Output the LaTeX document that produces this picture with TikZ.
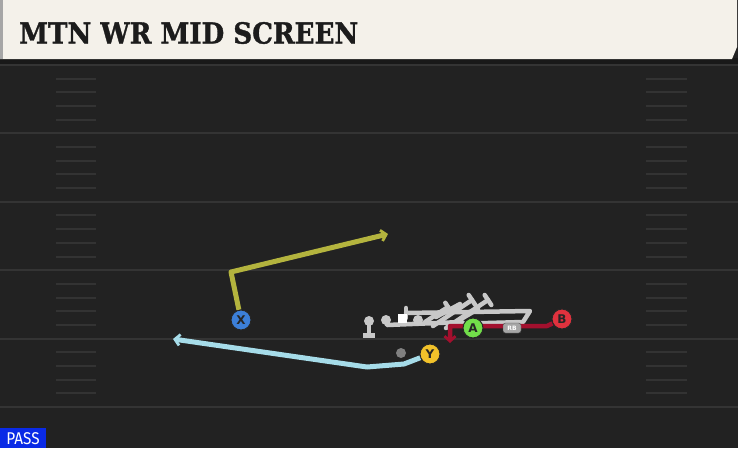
\documentclass[tikz,border=0pt]{standalone}
\usepackage{fontspec}
\usetikzlibrary{arrows.meta}
\newfontfamily\titlefont{DejaVu Serif}[FakeBold=1.2]
\newfontfamily\labfont{DejaVu Sans}
\newfontfamily\passfont{Fira Sans}
\definecolor{fieldbg}{HTML}{222222}
\definecolor{yardc}{HTML}{343434}
\definecolor{hashc}{HTML}{333333}
\definecolor{titlebg}{HTML}{F4F1EA}
\definecolor{titletx}{HTML}{1C1C1C}
\definecolor{xroute}{HTML}{B4B43E}
\definecolor{yroute}{HTML}{A6DCE9}
\definecolor{rroute}{HTML}{A3102E}
\definecolor{olc}{HTML}{C8C8C8}
\definecolor{xblue}{HTML}{3C7FD8}
\definecolor{yyel}{HTML}{F2C22A}
\definecolor{agreen}{HTML}{72DE4A}
\definecolor{bred}{HTML}{E0323E}
\definecolor{passblue}{HTML}{0A2AE6}
\tikzset{
  player/.style={circle, draw=black!85, line width=1pt, minimum size=20pt, inner sep=0pt, font=\labfont\bfseries\fontsize{12}{12}\selectfont, text=black!85},
  route/.style={line width=5pt, line join=round},
  barb/.style={-{Straight Barb[length=5pt,width=11pt,line width=2.8pt]}},
  olline/.style={olc, line width=4.5pt, line cap=round, line join=round},
  yard/.style={yardc, line width=2pt},
  hashm/.style={hashc, line width=2pt}
}
\begin{document}
\begin{tikzpicture}[x=1pt,y=-1pt]
\useasboundingbox (0,0) rectangle (738,448);
\fill[fieldbg] (0,0) rectangle (738,448);
% yard lines
\foreach \k in {0,...,5}{
  \draw[yard] (0,{65+68.4*\k}) -- (738,{65+68.4*\k});
}
% hash marks
\foreach \k in {0,...,4}{
  \foreach \j in {1,...,4}{
    \draw[hashm] (56,{65+68.4*\k+13.68*\j}) -- (96,{65+68.4*\k+13.68*\j});
    \draw[hashm] (646,{65+68.4*\k+13.68*\j}) -- (687,{65+68.4*\k+13.68*\j});
  }
}
% title bar
\fill[black!90] (0,58) rectangle (738,64);
\fill[titlebg] (0,0) -- (737,0) -- (737,47) -- (732,59) -- (0,59) -- cycle;
\fill[black!35] (0,0) rectangle (3,59);
\node[anchor=west, inner sep=0pt, text=titletx, font=\titlefont\bfseries\fontsize{29}{29}\selectfont] (title) at (19,33) {\scalebox{0.9}[1]{MTN WR MID SCREEN}};
% PASS tag
\fill[passblue] (0,428) rectangle (46,448);
\node[text=white, inner sep=0pt, font=\passfont\fontsize{17}{17}\selectfont] (pass) at (23,438.5) {\scalebox{0.9}[1]{PASS}};

% players
\node[player, fill=xblue] (X) at (241,320) {X};
\node[player, fill=yyel] (Y) at (430,354) {Y};
\node[player, fill=agreen] (A) at (473,328) {A};
\node[player, fill=bred] (B) at (562,319) {B};

% X route
\coordinate (x1) at (231,272);
\coordinate (xe) at (388,234);
\draw[route, xroute, barb] (X) -- (x1) -- (xe);
% Y route
\coordinate (y1) at (404,364);
\coordinate (y2) at (367,367);
\coordinate (ye) at (173,339);
\draw[route, yroute, barb] (Y) -- (y1) -- (y2) -- (ye);
% gray dot
\node[circle, fill=black!50, minimum size=10pt, inner sep=0pt] (dot) at (401,353) {};

% OL blocking lines
\draw[olline] (369,321) -- (369,335);
\draw[olc, line width=5pt] (363,335) -- (375,335);
\fill[olc] (369,321) circle (5pt);
\fill[olc] (386,320) circle (5pt);
\draw[olline] (386,320) -- (387,325) -- (462,322);
\draw[olline] (406,313) -- (530,311) -- (523,322) -- (452,324);
\draw[olline] (406,308) -- (406,318);
\draw[olline] (425,322) -- (448,307);
\draw[olline] (445.3,302.8) -- (450.7,311.2);
\draw[olline] (433,326) -- (472,300);
\draw[olline] (468.7,295) -- (475.3,305);
\draw[olline] (446,328) -- (488,300);
\draw[olline] (484.7,295) -- (491.3,305);
\draw[olline] (436,317) -- (460,304);
\draw[olline] (456,322) -- (478,309);
\fill[white] (398,314) rectangle (407,323);
\fill[black!20] (418,320) circle (5pt);

% B route
\coordinate (r1) at (547,326);
\coordinate (r2) at (450,326);
\coordinate (re) at (450,343);
\draw[route, rroute, line width=4.5pt, barb] (B) -- (r1) -- (r2) -- (re);
\node[player, fill=agreen] at (A) {A};
% RB tag
\node[draw=black!70, fill=black!35, rounded corners=2.5pt, inner sep=1pt, minimum width=18pt, minimum height=10pt, font=\labfont\bfseries\fontsize{6}{6}\selectfont, text=white] (rb) at (512,328) {RB};
\node[player, fill=bred] at (B) {B};
\end{tikzpicture}
\end{document}
